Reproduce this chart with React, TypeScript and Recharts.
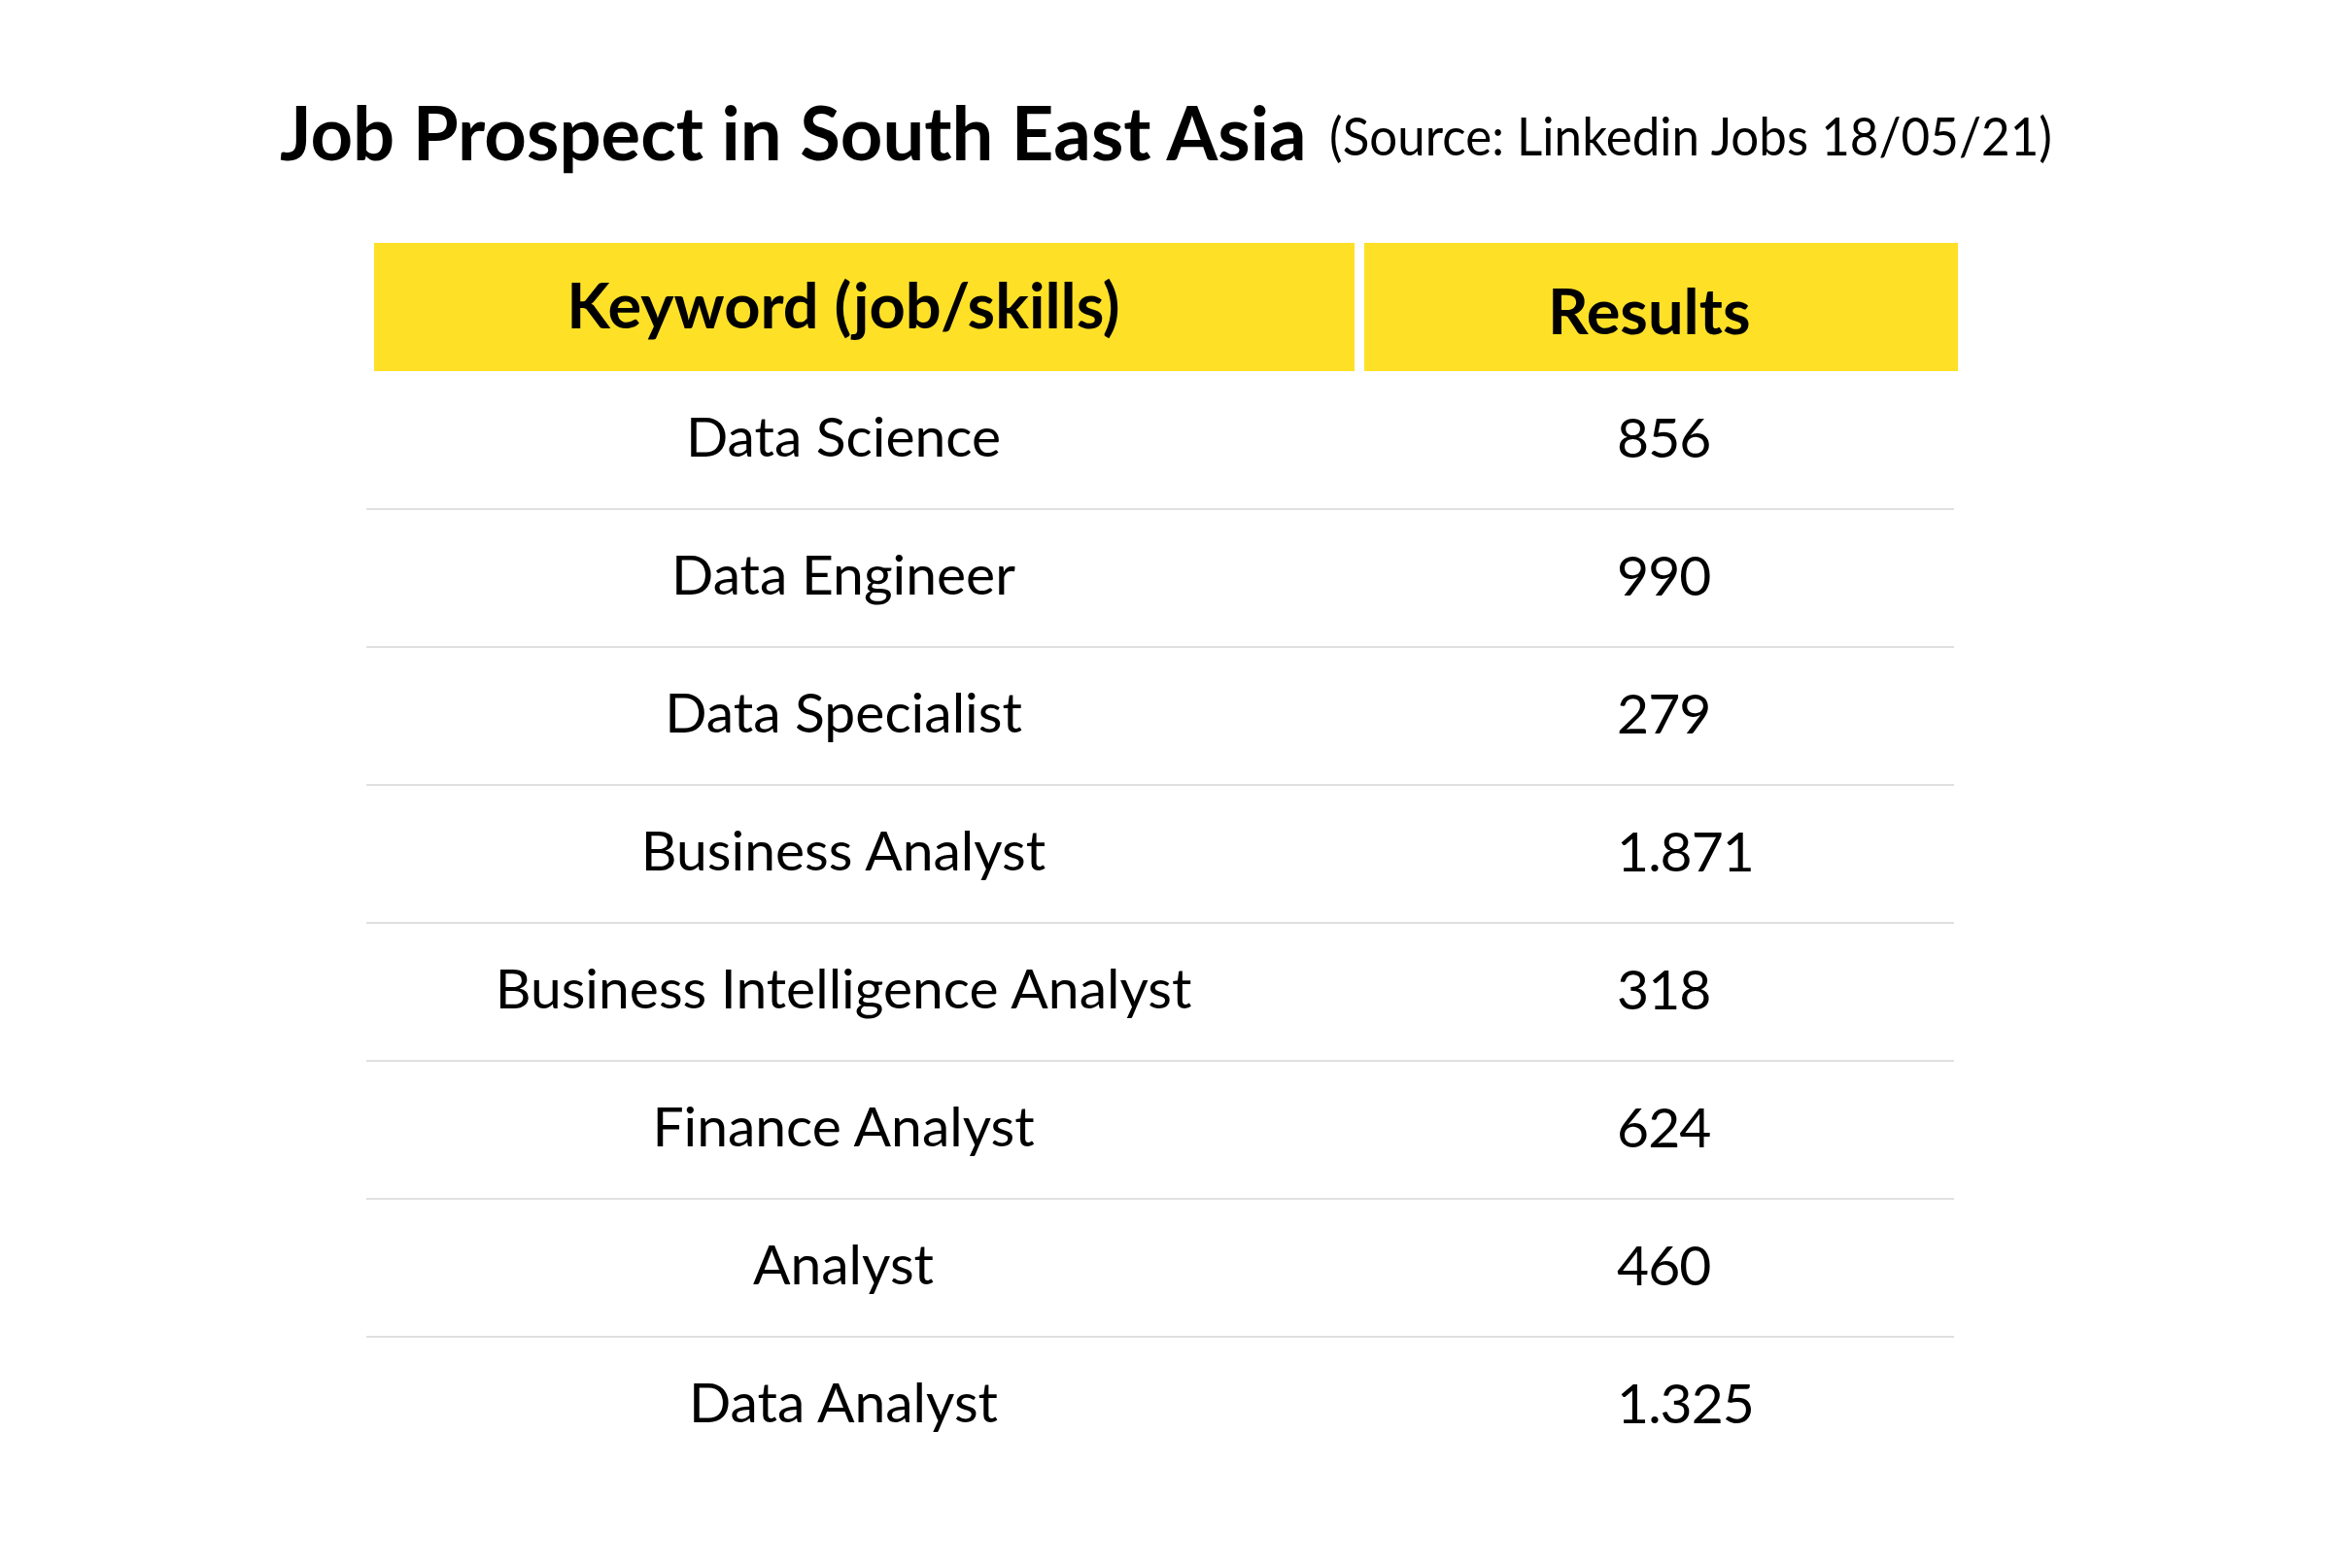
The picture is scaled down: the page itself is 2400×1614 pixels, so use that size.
import { ComposedChart, Bar, XAxis, YAxis } from 'recharts'

const TITLE = 'Job Prospect in South East Asia'
const SUBTITLE = '(Source: Linkedin Jobs 18/05/21)'
const HEAD_KEY = 'Keyword (job/skills)'
const HEAD_VAL = 'Results'

const keywords = [
  'Data Science',
  'Data Engineer',
  'Data Specialist',
  'Business Analyst',
  'Business Intelligence Analyst',
  'Finance Analyst',
  'Analyst',
  'Data Analyst',
]
const results = [856, 990, 279, 1871, 318, 624, 460, 1325]

const data = keywords.map((keyword, i) => ({ keyword, results: results[i] }))

const FONT = 'Lato, "Open Sans", sans-serif'
const YELLOW = '#FEE027'
const KEY_COL = 0.3005
const VAL_COL = 0.7877
const SPLIT = 0.6255
const HEADER_H = 132

// 1871 -> "1.871"
const fmt = (n: number) => n.toString().replace(/\B(?=(\d{3})+(?!\d))/g, '.')

function RowShape(props: any) {
  const { background, payload, index } = props
  const { x, y, width, height } = background
  const cy = y + height / 2
  const last = index === keywords.length - 1
  return (
    <g>
      {index === 0 && (
        <g>
          <rect x={x + 8} y={y - HEADER_H} width={width * SPLIT - 13} height={HEADER_H} fill={YELLOW} />
          <rect x={x + width * SPLIT + 5} y={y - HEADER_H} width={width * (1 - SPLIT) - 1} height={HEADER_H} fill={YELLOW} />
          <text x={x + width * KEY_COL} y={y - HEADER_H + 88} textAnchor="middle" fontFamily={FONT} fontWeight={700} fontSize={65} fill="#000">
            {HEAD_KEY}
          </text>
          <text x={x + width * 0.808} y={y - HEADER_H + 94} textAnchor="middle" fontFamily={FONT} fontWeight={700} fontSize={65} fill="#000">
            {HEAD_VAL}
          </text>
        </g>
      )}
      <text x={x + width * KEY_COL} y={cy + 17} textAnchor="middle" fontFamily={FONT} fontSize={57} fill="#000">
        {payload.keyword}
      </text>
      <text x={x + width * VAL_COL} y={cy + 18} fontFamily={FONT} fontSize={57} letterSpacing={-1} fill="#000">
        {fmt(payload.results)}
      </text>
      {!last && (
        <line x1={x} x2={x + width} y1={y + height} y2={y + height} stroke="#e0e0e0" strokeWidth={2} />
      )}
    </g>
  )
}

export default function App() {
  return (
    <div style={{ position: 'absolute', left: 0, top: 0, width: 2400, height: 1614, background: '#fff' }}>
      <svg width={2400} height={200} style={{ position: 'absolute', left: 0, top: 0 }}>
        <text x={288} y={165} fontFamily={FONT} fontWeight={700} fontSize={76} fill="#000">
          {TITLE}
        </text>
        <text
          x={1368}
          y={160}
          fontFamily={FONT}
          fontSize={54}
          textLength={744}
          lengthAdjust="spacingAndGlyphs"
          fill="#000"
        >
          {SUBTITLE}
        </text>
      </svg>
      <div style={{ position: 'absolute', left: 0, top: 0 }}>
        <ComposedChart
          layout="vertical"
          width={2400}
          height={1614}
          data={data}
          barCategoryGap={0}
          margin={{ top: 382, right: 389, bottom: 96, left: 377 }}
        >
          <XAxis type="number" hide domain={[0, 'dataMax']} />
          <YAxis type="category" dataKey="keyword" hide />
          <Bar dataKey="results" fill="none" shape={RowShape} isAnimationActive={false} />
        </ComposedChart>
      </div>
    </div>
  )
}
